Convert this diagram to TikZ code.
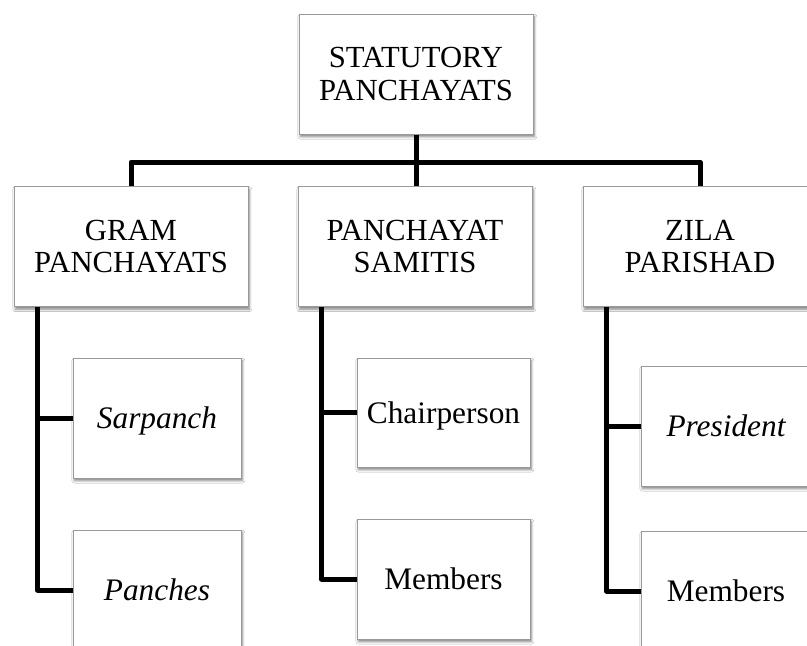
\documentclass[tikz,border=0pt]{standalone}
\usepackage{fontspec}
\setmainfont{Liberation Serif}
\usetikzlibrary{shadows.blur,calc}
\begin{document}
\begin{tikzpicture}[x=0.75pt,y=-0.75pt,
  box/.style={draw=black!40, line width=0.75pt, fill=white,
    blur shadow={shadow xshift=1pt, shadow yshift=-2pt, shadow blur steps=6, shadow opacity=50},
    inner sep=0pt, align=center},
  headbox/.style={box, minimum width=175.5pt, minimum height=90pt,
    font=\fontsize{23}{24.5}\selectfont},
  leafbox/.style={box, minimum height=90pt, text depth=0pt, font=\fontsize{23.5}{26}\selectfont},
  conn/.style={line width=3.75pt, line join=round, black}]
\fill[white] (0,0) rectangle (807,646);
\useasboundingbox (0,0) rectangle (807,646);
\clip (0,0) rectangle (807,646);

\coordinate (bar) at (416,162);

\node[headbox] (top) at (416,74) {STATUTORY\\PANCHAYATS};
\node[headbox] (gram) at (131,246.5) {GRAM\\PANCHAYATS};
\node[headbox] (samitis) at (415,246.5) {PANCHAYAT\\SAMITIS};
\node[headbox] (zila) at (700,246.5) {ZILA\\PARISHAD};

\node[leafbox, minimum width=126pt] (sarpanch) at (157,418) {\itshape Sarpanch};
\node[leafbox, minimum width=126pt] (panches) at (157,590) {\itshape Panches};
\node[leafbox, minimum width=129.75pt, minimum height=81.75pt] (chair) at (443.5,412.5) {Chairperson};
\node[leafbox, minimum width=129.75pt] (smembers) at (443.5,579) {Members};
\node[leafbox, minimum width=127.5pt] (president) at (726,426) {\itshape President};
\node[leafbox, minimum width=127.5pt] (zmembers) at (726,591) {Members};

\draw[conn] (gram.north) -- (gram.north |- bar) -- (zila.north |- bar) -- (zila.north);
\draw[conn] (top.south) -- (top.south |- samitis.north);

\draw[conn] ($(gram.south west)+(24,0)$) |- (panches.west);
\draw[conn] ($(gram.south west)+(24,0)$) |- (sarpanch.west);
\draw[conn] ($(samitis.south west)+(24,0)$) |- (smembers.west);
\draw[conn] ($(samitis.south west)+(24,0)$) |- (chair.west);
\draw[conn] ($(zila.south west)+(24,0)$) |- (zmembers.west);
\draw[conn] ($(zila.south west)+(24,0)$) |- (president.west);
\end{tikzpicture}
\end{document}
